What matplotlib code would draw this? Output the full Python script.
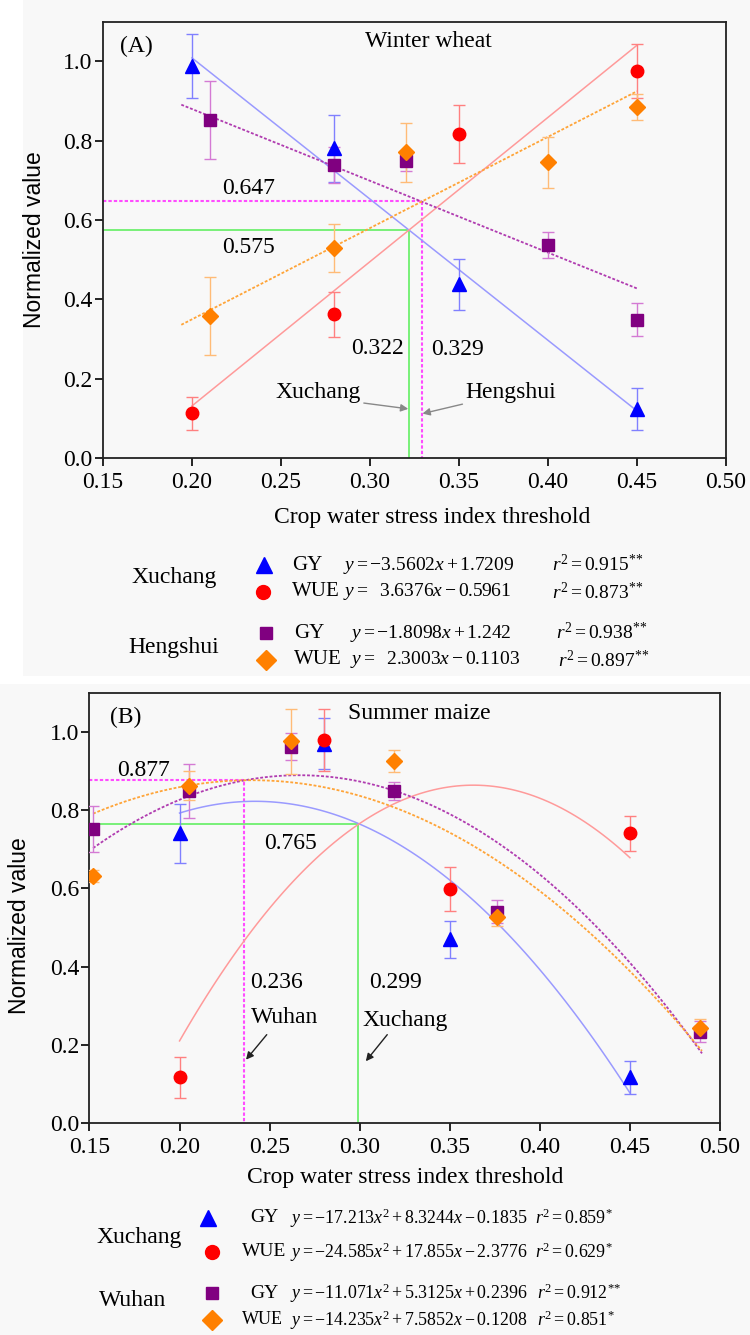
import numpy as np
import matplotlib
matplotlib.use("Agg")
import matplotlib.pyplot as plt
from matplotlib.patches import Rectangle

plt.rcParams["font.family"] = ["Liberation Serif", "DejaVu Serif"]
plt.rcParams["mathtext.fontset"] = "custom"
plt.rcParams["mathtext.rm"] = "Liberation Serif"
plt.rcParams["mathtext.it"] = "Liberation Serif:italic"

# ---- panel A: winter wheat ----
a_x_xc = [0.20, 0.28, 0.35, 0.45]
a_gy_xc = [0.988, 0.781, 0.438, 0.124]
a_gy_xc_err = [0.080, 0.085, 0.065, 0.053]
a_wue_xc = [0.113, 0.362, 0.818, 0.975]
a_wue_xc_err = [0.042, 0.057, 0.073, 0.068]
a_x_hs = [0.21, 0.28, 0.32, 0.40, 0.45]
a_gy_hs = [0.853, 0.738, 0.749, 0.538, 0.349]
a_gy_hs_err = [0.098, 0.045, 0.025, 0.033, 0.042]
a_wue_hs = [0.358, 0.529, 0.771, 0.746, 0.885]
a_wue_hs_err = [0.099, 0.060, 0.074, 0.064, 0.032]
# linear fits (slope, intercept) and fitted x-range
a_fit_gy_xc = (-3.5602, 1.7209)
a_fit_wue_xc = (3.6376, -0.5961)
a_fit_gy_hs = (-1.8098, 1.242)
a_fit_wue_hs = (2.3003, -0.1103)
a_range_xc = (0.20, 0.45)
a_range_hs = (0.194, 0.45)
a_thr = {"Xuchang": (0.322, 0.575), "Hengshui": (0.329, 0.647)}

# ---- panel B: summer maize ----
b_x_xc = [0.20, 0.28, 0.35, 0.45]
b_gy_xc = [0.741, 0.970, 0.470, 0.117]
b_gy_xc_err = [0.075, 0.065, 0.047, 0.042]
b_wue_xc = [0.117, 0.980, 0.598, 0.741]
b_wue_xc_err = [0.052, 0.080, 0.056, 0.044]
b_x_wh = [0.152, 0.205, 0.262, 0.319, 0.376, 0.489]
b_gy_wh = [0.752, 0.850, 0.963, 0.850, 0.541, 0.233]
b_gy_wh_err = [0.058, 0.069, 0.034, 0.023, 0.029, 0.027]
b_wue_wh = [0.632, 0.863, 0.977, 0.927, 0.526, 0.242]
b_wue_wh_err = [0.015, 0.038, 0.083, 0.028, 0.022, 0.023]
# quadratic fits (a, b, c); colours of the two Wuhan curves follow the picture
b_fit_gy_xc = (-17.213, 8.3244, -0.1835)
b_fit_wue_xc = (-24.585, 17.855, -2.3776)
b_fit_purple_wh = (-14.235, 7.5852, -0.1208)
b_fit_orange_wh = (-11.071, 5.3125, 0.2396)
b_range_xc = (0.20, 0.45)
b_range_wh = (0.152, 0.49)
b_thr = {"Xuchang": (0.299, 0.765), "Wuhan": (0.236, 0.877)}

xticks = [0.15, 0.20, 0.25, 0.30, 0.35, 0.40, 0.45, 0.50]
yticks = [0.0, 0.2, 0.4, 0.6, 0.8, 1.0]

BLUE, RED, PURP, ORNG = "#0000ff", "#ff0000", "#800080", "#ff8000"
LBLUE, LRED, LPURP, LORNG = "#9a9aff", "#ff9a9a", "#b03cb0", "#ffa438"
EBLUE, ERED, EPURP, EORNG = "#8080ff", "#ff8080", "#d47ad4", "#ffbb77"
GREEN, PINK = "#6ef06e", "#ff4cff"
DOT = (0, (1.6, 1.0))
BG = "#f8f8f8"
SERIF = ["Liberation Serif", "DejaVu Serif"]

fig = plt.figure(figsize=(7.5, 13.35), dpi=100, facecolor=BG)
fig.patches.append(Rectangle((0, 0.49), 0.03, 0.51, transform=fig.transFigure,
                             facecolor="white", edgecolor="none", zorder=-5))
fig.patches.append(Rectangle((0, 0.488), 1, 0.006, transform=fig.transFigure,
                             facecolor="white", edgecolor="none", zorder=-5))


def pts(ax, x, y, err, mk, ms, fc, ec):
    ax.errorbar(x, y, yerr=err, fmt="none", ecolor=ec, elinewidth=1.0,
                capsize=4, capthick=1.0, zorder=3)
    ax.plot(x, y, mk, ms=ms, color=fc, mec=fc, zorder=4)


def style(ax):
    ax.set_facecolor(BG)
    ax.set_xlim(0.15, 0.50)
    ax.set_ylim(0, 1.1)
    ax.set_xticks(xticks)
    ax.set_xticklabels([f"{t:.2f}" for t in xticks], fontfamily=SERIF, fontsize=17)
    ax.set_yticks(yticks)
    ax.set_yticklabels([f"{t:.1f}" for t in yticks], fontfamily=SERIF, fontsize=17)
    ax.tick_params(direction="out", length=6, width=1.2)
    ax.tick_params(axis="x", pad=4)
    ax.tick_params(axis="y", pad=1.5)
    for s in ax.spines.values():
        s.set_linewidth(1.3)
        s.set_color("#222222")
    ax.set_ylabel("Normalized value", family=["Liberation Sans"], fontsize=16.5)


# ================= panel A =================
ax = fig.add_axes([0.1373, 0.6569, 0.8307, 0.3268])
style(ax)
xs = np.linspace(*a_range_xc, 50)
ax.plot(xs, a_fit_gy_xc[0] * xs + a_fit_gy_xc[1], color=LBLUE, lw=1.1, zorder=2)
ax.plot(xs, a_fit_wue_xc[0] * xs + a_fit_wue_xc[1], color=LRED, lw=1.1, zorder=2)
xs = np.linspace(*a_range_hs, 50)
ax.plot(xs, a_fit_gy_hs[0] * xs + a_fit_gy_hs[1], color=LPURP, lw=1.3, ls=DOT, zorder=2)
ax.plot(xs, a_fit_wue_hs[0] * xs + a_fit_wue_hs[1], color=LORNG, lw=1.3, ls=DOT, zorder=2)

tx, ty = a_thr["Xuchang"]
ax.plot([0.15, tx, tx], [ty, ty, 0], color=GREEN, lw=1.3, zorder=1)
tx, ty = a_thr["Hengshui"]
ax.plot([0.15, tx, tx], [ty, ty, 0], color=PINK, lw=1.5, ls=DOT, zorder=1)

pts(ax, a_x_xc, a_gy_xc, a_gy_xc_err, "^", 10, BLUE, EBLUE)
pts(ax, a_x_xc, a_wue_xc, a_wue_xc_err, "o", 9, RED, ERED)
pts(ax, a_x_hs, a_gy_hs, a_gy_hs_err, "s", 8, PURP, EPURP)
pts(ax, a_x_hs, a_wue_hs, a_wue_hs_err, "D", 8, ORNG, EORNG)

ax.text(0.169, 1.037, "(A)", fontsize=17, ha="center", va="center")
ax.text(0.333, 1.049, "Winter wheat", fontsize=17, ha="center", va="center")
ax.text(0.232, 0.679, f"{a_thr['Hengshui'][1]:.3f}", fontsize=17, ha="center", va="center")
ax.text(0.232, 0.532, f"{a_thr['Xuchang'][1]:.3f}", fontsize=17, ha="center", va="center")
ax.text(0.304, 0.276, f"{a_thr['Xuchang'][0]:.3f}", fontsize=17, ha="center", va="center")
ax.text(0.349, 0.273, f"{a_thr['Hengshui'][0]:.3f}", fontsize=17, ha="center", va="center")
arr = dict(arrowstyle="-|>", color="#888888", lw=1.0, mutation_scale=11,
           shrinkA=0, shrinkB=0)
ax.annotate("Xuchang", xy=(a_thr["Xuchang"][0] - 0.0005, 0.124), xytext=(0.271, 0.166),
            fontsize=17, ha="center", va="center",
            arrowprops=dict(arr, relpos=(1.0, 0.0)))
ax.annotate("Hengshui", xy=(a_thr["Hengshui"][0] + 0.0005, 0.112), xytext=(0.379, 0.164),
            fontsize=17, ha="center", va="center",
            arrowprops=dict(arr, relpos=(0.0, 0.0)))
ax.set_xlabel("Crop water stress index threshold", fontsize=17)
ax.xaxis.set_label_coords(0.528, -0.113)
ax.yaxis.set_label_coords(-0.092, 0.5)

# ================= panel B =================
bx = fig.add_axes([0.1193, 0.1588, 0.8407, 0.3221])
style(bx)
xs = np.linspace(*b_range_xc, 100)
bx.plot(xs, np.polyval(b_fit_gy_xc, xs), color=LBLUE, lw=1.1, zorder=2)
bx.plot(xs, np.polyval(b_fit_wue_xc, xs), color=LRED, lw=1.1, zorder=2)
xs = np.linspace(*b_range_wh, 100)
bx.plot(xs, np.polyval(b_fit_purple_wh, xs), color=LPURP, lw=1.3, ls=DOT, zorder=2)
bx.plot(xs, np.polyval(b_fit_orange_wh, xs), color=LORNG, lw=1.3, ls=DOT, zorder=2)

tx, ty = b_thr["Xuchang"]
bx.plot([0.15, tx, tx], [ty, ty, 0], color=GREEN, lw=1.3, zorder=1)
tx, ty = b_thr["Wuhan"]
bx.plot([0.15, tx, tx], [ty, ty, 0], color=PINK, lw=1.5, ls=DOT, zorder=1)

pts(bx, b_x_xc, b_gy_xc, b_gy_xc_err, "^", 10, BLUE, EBLUE)
pts(bx, b_x_xc, b_wue_xc, b_wue_xc_err, "o", 9, RED, ERED)
pts(bx, b_x_wh, b_gy_wh, b_gy_wh_err, "s", 8, PURP, EPURP)
pts(bx, b_x_wh, b_wue_wh, b_wue_wh_err, "D", 8, ORNG, EORNG)

bx.text(0.170, 1.038, "(B)", fontsize=17, ha="center", va="center")
bx.text(0.333, 1.047, "Summer maize", fontsize=17, ha="center", va="center")
bx.text(0.180, 0.902, f"{b_thr['Wuhan'][1]:.3f}", fontsize=17, ha="center", va="center")
bx.text(0.2614, 0.714, f"{b_thr['Xuchang'][1]:.3f}", fontsize=17, ha="center", va="center")
bx.text(0.2537, 0.359, f"{b_thr['Wuhan'][0]:.3f}", fontsize=17, ha="center", va="center")
bx.text(0.3196, 0.359, f"{b_thr['Xuchang'][0]:.3f}", fontsize=17, ha="center", va="center")
bx.text(0.2585, 0.269, "Wuhan", fontsize=17, ha="center", va="center")
bx.text(0.3254, 0.261, "Xuchang", fontsize=17, ha="center", va="center")
arrb = dict(arrowstyle="-|>", color="#222222", lw=1.0, mutation_scale=11,
            shrinkA=0, shrinkB=0)
bx.annotate("", xy=(0.2369, 0.162), xytext=(0.2484, 0.226), arrowprops=arrb)
bx.annotate("", xy=(0.3034, 0.158), xytext=(0.3153, 0.226), arrowprops=arrb)
bx.set_xlabel("Crop water stress index threshold", fontsize=17)
bx.xaxis.set_label_coords(0.5004, -0.103)
bx.yaxis.set_label_coords(-0.093, 0.46)

# ================= equation keys (pixel layout) =================
lg = fig.add_axes([0, 0, 1, 1], zorder=-1)
lg.set_xlim(0, 750)
lg.set_ylim(1335, 0)
lg.axis("off")


def key_row(x_mk, y, mk, ms, col, name, x_name, eq, x_eq, r2, x_r2, fs_eq, fs_name=15):
    lg.plot([x_mk], [y], mk, ms=ms, color=col, mec=col)
    lg.text(x_name, y, name, fontsize=fs_name, ha="left", va="center")
    lg.text(x_eq, y, eq, fontsize=fs_eq, ha="left", va="center")
    lg.text(x_r2, y, r2, fontsize=fs_eq, ha="left", va="center")


lg.text(174, 578, "Xuchang", fontsize=17, ha="center", va="center")
lg.text(174, 647, "Hengshui", fontsize=17, ha="center", va="center")
key_row(264, 565, "^", 11, BLUE, "GY", 292, r"$y = -3.5602x + 1.7209$", 343,
        r"$r^2 = 0.915^{{*}{*}}$", 552, 14)
key_row(263, 592, "o", 10, RED, "WUE", 292, r"$y = \ \ 3.6376x - 0.5961$", 343,
        r"$r^2 = 0.873^{{*}{*}}$", 552, 14)
key_row(266, 633, "s", 9, PURP, "GY", 294, r"$y = -1.8098x + 1.242$", 350,
        r"$r^2 = 0.938^{{*}{*}}$", 556, 14)
key_row(266, 660, "D", 10, ORNG, "WUE", 294, r"$y = \ \ 2.3003x - 0.1103$", 350,
        r"$r^2 = 0.897^{{*}{*}}$", 558, 14)

lg.text(139, 1237, "Xuchang", fontsize=17, ha="center", va="center")
lg.text(133, 1300, "Wuhan", fontsize=17, ha="center", va="center")
key_row(208, 1218, "^", 11, BLUE, "GY", 250, r"$y = -17.213x^2 + 8.3244x - 0.1835$", 290,
        r"$r^2 = 0.859^{*}$", 535, 12.9, 14)
key_row(212, 1252, "o", 10, RED, "WUE", 242, r"$y = -24.585x^2 + 17.855x - 2.3776$", 290,
        r"$r^2 = 0.629^{*}$", 535, 12.9, 14)
key_row(212, 1293, "s", 9, PURP, "GY", 250, r"$y = -11.071x^2 + 5.3125x + 0.2396$", 290,
        r"$r^2 = 0.912^{{*}{*}}$", 537, 12.9, 14)
key_row(212, 1320, "D", 10, ORNG, "WUE", 242, r"$y = -14.235x^2 + 7.5852x - 0.1208$", 290,
        r"$r^2 = 0.851^{*}$", 537, 12.9, 13)

fig.savefig("out.png", dpi=100, facecolor=fig.get_facecolor())
